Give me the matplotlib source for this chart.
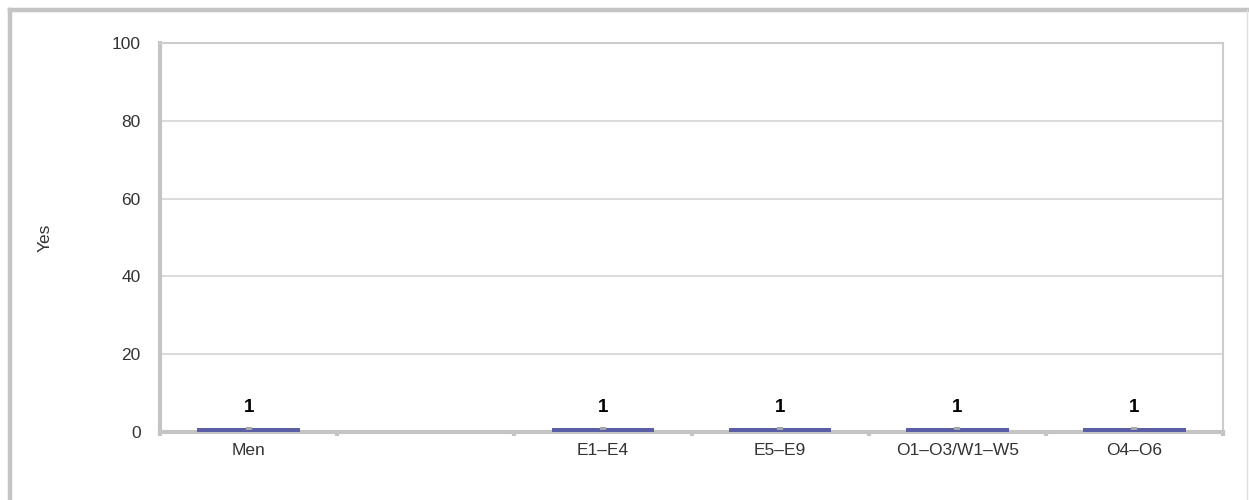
import numpy as np
import matplotlib
matplotlib.use('Agg')
import matplotlib.pyplot as plt
from matplotlib.lines import Line2D

plt.rcParams['font.family'] = ['Liberation Sans', 'DejaVu Sans']

# data
categories = ['Men', '', 'E1\u2013E4', 'E5\u2013E9', 'O1\u2013O3/W1\u2013W5', 'O4\u2013O6']
values = [1, np.nan, 1, 1, 1, 1]
errors = [0.4, np.nan, 0.4, 0.4, 0.4, 0.4]
ylabel = 'Yes'
yticks = [0, 20, 40, 60, 80, 100]

W, H = 1249, 500
fig = plt.figure(figsize=(W/100, H/100), dpi=100)

# outer frame (top/left thick, right thin, bottom cut off)
fig.add_artist(Line2D([10/W, 10/W], [-0.1, 1 - 10/H], color='#c4c4c4', lw=3.2, transform=fig.transFigure))
fig.add_artist(Line2D([10/W, 1.1], [1 - 10/H, 1 - 10/H], color='#c4c4c4', lw=3.2, transform=fig.transFigure))
fig.add_artist(Line2D([1247/W, 1247/W], [-0.1, 1 - 10/H], color='#e0e0e0', lw=1.0, transform=fig.transFigure))

ax = fig.add_axes([160/W, 1 - 432/H, (1223 - 160)/W, (432 - 43)/H])

x = np.arange(len(categories))
ax.bar(x, values, width=0.58, color='#5a5ea6', zorder=3)
ax.errorbar(x, values, yerr=errors, fmt='none', ecolor='#a8a8a8', elinewidth=4.5, capsize=0, zorder=4)

for xi, v in zip(x, values):
    if not np.isnan(v):
        ax.text(xi, v + 3, '%g' % v, ha='center', va='bottom', fontsize=13.5, fontweight='bold', color='black')

ax.set_xlim(-0.5, len(categories) - 0.5)
ax.set_ylim(0, 100)
ax.set_yticks(yticks)
ax.set_yticklabels([str(t) for t in yticks], fontsize=12.5, color='#333333')
ax.tick_params(axis='y', length=0, pad=14)

ax.set_xticks(x)
ax.set_xticklabels(categories, fontsize=12.5, color='#333333')
ax.set_xticks(np.arange(len(categories) + 1) - 0.5, minor=True)
ax.tick_params(axis='x', which='major', length=0, pad=8)
ax.tick_params(axis='x', which='minor', length=3, width=3, color='#c4c4c4', direction='out')

ax.yaxis.grid(True, color='#d4d4d4', lw=1.2, zorder=0)
ax.set_axisbelow(True)

for side in ['left', 'bottom']:
    ax.spines[side].set_color('#c4c4c4')
    ax.spines[side].set_linewidth(3.0)
ax.spines['top'].set_color('#cccccc')
ax.spines['top'].set_linewidth(1.5)
ax.spines['right'].set_color('#cccccc')
ax.spines['right'].set_linewidth(1.5)

ax.set_ylabel(ylabel, fontsize=12.5, color='#333333', labelpad=0)
ax.yaxis.set_label_coords(-107/(1223 - 160), 0.5)

fig.savefig('out.png', dpi=100)
